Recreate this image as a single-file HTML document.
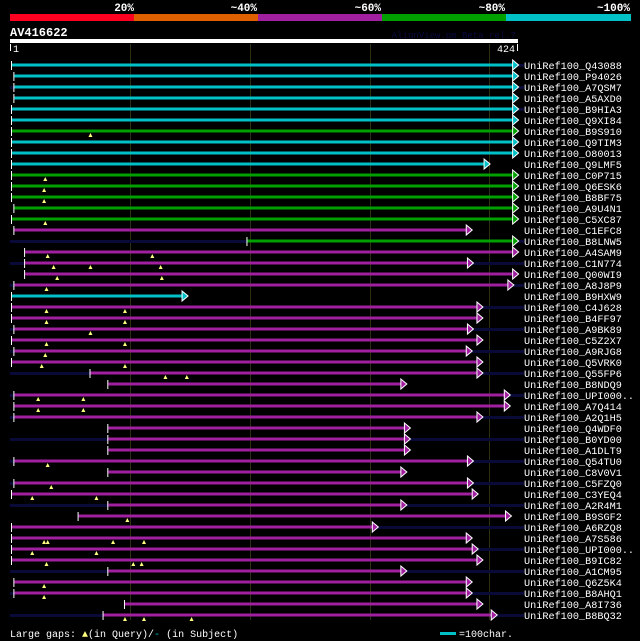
<!DOCTYPE html>
<html><head><meta charset="utf-8"><style>
body{margin:0;background:#000;width:640px;height:641px;overflow:hidden}
svg{display:block}
text{font-family:"Liberation Mono",monospace}
</style></head><body>
<svg id="c" width="640" height="641">
<rect x="0" y="0" width="640" height="641" fill="#000"/>
<g>
<rect x="10" y="14" width="124" height="7" fill="#ff0020"/>
<rect x="134" y="14" width="124" height="7" fill="#e06000"/>
<rect x="258" y="14" width="124" height="7" fill="#a020a0"/>
<rect x="382" y="14" width="124" height="7" fill="#00a000"/>
<rect x="506" y="14" width="125" height="7" fill="#00c0c8"/>
<g fill="#fff" font-size="11" font-weight="bold" text-anchor="end">
<text x="134" y="11">20%</text>
<text x="257" y="11">~40%</text>
<text x="381" y="11">~60%</text>
<text x="505" y="11">~80%</text>
<text x="630" y="11">~100%</text>
</g></g>
<text x="10" y="36" fill="#fff" font-size="12" font-weight="bold">AV416622</text>
<text x="516" y="38" fill="#0a0a40" font-size="9" text-anchor="end">AlignView.pm Beta rel.7</text>
<rect x="10" y="39" width="508" height="4" fill="#fff"/>
<rect x="10" y="44" width="1" height="7" fill="#fff"/>
<text x="13" y="52" fill="#fff" font-size="10">1</text>
<text x="515" y="52" fill="#fff" font-size="10" text-anchor="end">424</text>
<rect x="517" y="44" width="1" height="7" fill="#fff"/>
<g id="grid"></g>
<g id="rows"></g>
<g>
<text x="10" y="637" fill="#fff" font-size="10">Large gaps: <tspan fill="#ffff80">▲</tspan>(in Query)/<tspan fill="#00c0c8">-</tspan> (in Subject)</text>
<rect x="440" y="632" width="16" height="3" fill="#00c0c8"/>
<text x="459" y="637" fill="#fff" font-size="10">=100char.</text>
</g>
</svg>
<script>
const names=["Q43088","P94026","A7QSM7","A5AXD0","B9HIA3","Q9XI84","B9S910","Q9TIM3","O80013","Q9LMF5","C0P715","Q6ESK6","B8BF75","A9U4N1","C5XC87","C1EFC8","B8LNW5","A4SAM9","C1N774","Q00WI9","A8J8P9","B9HXW9","C4J628","B4FF97","A9BK89","C5Z2X7","A9RJG8","Q5VRK0","Q55FP6","B8NDQ9","UPI000..","A7Q414","A2Q1H5","Q4WDF0","B0YD00","A1DLT9","Q54TU0","C8V0V1","C5FZQ0","C3YEQ4","A2R4M1","B9SGF2","A6RZQ8","A7S586","UPI000..","B9IC82","A1CM95","Q6Z5K4","B8AHQ1","A8I736","B8BQ32"];
const starts=[1,3,3,3,1,1,1,1,1,1,1,1,1,3,1,3,199,12,12,12,3,1,1,1,3,1,3,1,67,82,3,3,3,82,82,82,3,82,3,1,82,57,1,1,1,1,82,3,3,96,78];
const ends=[422,422,422,422,422,422,422,422,422,398,422,422,422,422,422,383,422,422,384,422,418,144,392,392,384,392,383,392,392,328,415,415,392,331,331,331,384,328,384,388,328,416,304,383,388,392,328,383,383,392,404];
const colors="CCCCCCGCCCGGGGGMGMMMMCMMMMMMMMMMMMMMMMMMMMMMMMMMMMM";
const prefix=[0,0,1,0,1,0,0,0,0,0,0,0,0,0,0,0,1,0,1,0,1,0,0,0,1,0,1,0,1,0,1,0,1,0,1,0,1,0,1,0,1,0,0,0,0,0,1,0,1,0,1];
const suffix=[1,0,1,0,1,0,0,0,0,0,0,0,0,0,0,0,1,0,1,0,1,0,1,0,1,0,1,0,1,0,1,0,1,0,1,0,1,0,1,0,1,0,1,0,1,0,1,0,1,0,1];
const gaps=[[],[],[],[],[],[],[67],[],[],[],[29],[28],[28],[],[29],[],[],[31,119],[36,67,126],[39,127],[30],[],[30,96],[30,96],[67],[30,96],[29],[26,96],[130,148],[],[23,61],[23,61],[],[],[],[],[31],[],[34],[18,72],[],[98],[],[28,31,86,112],[18,72],[30,103,110],[],[28],[28],[],[96,112,152]];
const gridPos=[100,201,302,402];
const SVGNS="http://www.w3.org/2000/svg";
const X=p=>12+(p-1)*503/423;
const Y=i=>65+11*i;
const col={C:"#00c0c8",G:"#00a000",M:"#a020a0"};
function mk(tag,attrs,parent){const e=document.createElementNS(SVGNS,tag);for(const k in attrs)e.setAttribute(k,attrs[k]);parent.appendChild(e);return e;}
const grid=document.getElementById('grid');
gridPos.forEach(p=>{
  const l=mk('rect',{x:Math.round(X(p)),y:44,width:1,height:576,fill:'#2e2e10'},grid);
  
  
});
const rows=document.getElementById('rows');
names.forEach((n,i)=>{
  const g=mk('g',{},rows);
  
  
  const y=Y(i);
  const x0=X(starts[i]),x1=X(ends[i]);
  if(prefix[i]){const p=mk('rect',{x:10,y:y-1,width:x0-10,height:3,fill:'#0a0a38'},g);
    
    }
  if(suffix[i]){const p=mk('rect',{x:x1,y:y-1,width:524-x1,height:3,fill:'#0a0a38'},g);
    
    }
  const b=mk('rect',{x:x0,y:y-1.5,width:x1-x0,height:3,fill:col[colors[i]]},g);
  
  
  const t=mk('rect',{x:x0-1,y:y-4,width:1,height:9,fill:'#fff'},g);
  
  
  const a=mk('polygon',{points:`${x1},${y-5} ${x1+6},${y} ${x1},${y+5}`,fill:col[colors[i]],stroke:'#fff','stroke-width':1},g);
  
  
  gaps[i].forEach(gp=>{
    const m=mk('polygon',{points:`${X(gp)-2},${y+6} ${X(gp)},${y+2} ${X(gp)+2},${y+6}`,fill:'#ffff80'},g);
    
    
  });
  const lab=mk('text',{x:524,y:y+4,fill:'#fff','font-size':10.2},g);
  lab.textContent='UniRef100_'+n;
  
  
});
</script>
</body></html>
